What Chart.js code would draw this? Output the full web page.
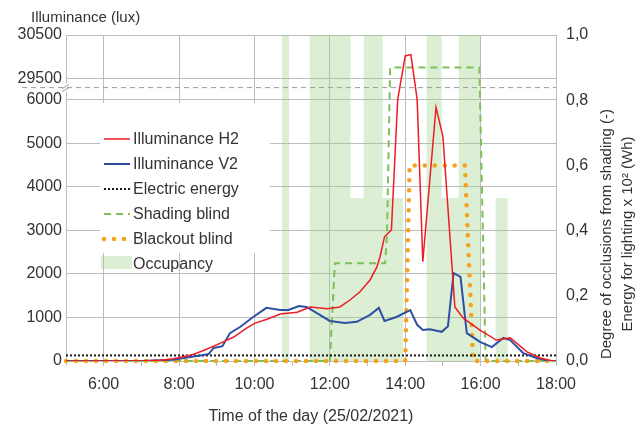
<!DOCTYPE html>
<html>
<head>
<meta charset="utf-8">
<script src="https://cdn.jsdelivr.net/npm/chart.js@4.4.1/dist/chart.umd.min.js"></script>
<style>
html, body { margin: 0; padding: 0; background: #fff; }
#wrap { width: 643px; height: 427px; }
</style>
</head>
<body>
<div id="wrap"><canvas id="chart"></canvas></div>
<script>
// Illuminance H2 (lux)
const h2Times = ["5:00", "7:00", "7:30", "7:51", "8:18", "8:37", "9:06", "9:27", "9:48", "10:01", "10:20", "10:41", "11:08", "11:29", "11:56", "12:16", "12:32", "12:48", "13:04", "13:15", "13:20", "13:27", "13:38", "13:48", "14:00", "14:09", "14:19", "14:28", "14:49", "15:00", "15:19", "15:32", "15:59", "16:25", "16:47", "17:14", "17:35", "17:55", "18:00"];
const h2Values = [0, 0, 20, 50, 130, 230, 410, 550, 760, 870, 960, 1080, 1120, 1240, 1200, 1240, 1400, 1590, 1860, 2160, 2400, 2850, 3010, 6000, 30020, 30050, 6000, 2280, 5820, 5150, 1240, 990, 710, 480, 530, 210, 70, 0, 0];

// Illuminance V2 (lux)
const v2Times = ["5:00", "7:00", "7:51", "8:18", "8:39", "8:47", "8:55", "9:09", "9:21", "9:37", "9:58", "10:19", "10:41", "10:54", "11:11", "11:23", "11:44", "12:00", "12:24", "12:43", "13:04", "13:18", "13:27", "13:46", "14:08", "14:19", "14:28", "14:39", "14:58", "15:08", "15:17", "15:28", "15:38", "15:59", "16:18", "16:36", "16:47", "17:08", "17:29", "17:50", "18:00"];
const v2Values = [0, 0, 30, 90, 140, 160, 300, 340, 640, 780, 1010, 1220, 1170, 1170, 1260, 1240, 1060, 920, 870, 900, 1060, 1220, 920, 1010, 1170, 830, 710, 730, 670, 800, 2020, 1930, 640, 440, 320, 530, 480, 180, 70, 0, 0];

// Electric energy (x 10^2 Wh, right axis)
const energyTimes = ["5:00", "18:00"];
const energyValues = [0.017, 0.017];

// Shading blind (degree of occlusion, right axis)
const shadingTimes = ["5:00", "12:00", "12:08", "13:28", "13:31", "13:36", "15:58", "16:08", "18:00"];
const shadingValues = [0, 0, 0.3, 0.3, 0.39, 0.9, 0.9, 0, 0];

// Blackout blind (degree of occlusion, right axis)
const blackoutTimes = ["5:00", "14:00", "14:07", "15:35", "15:48", "18:00"];
const blackoutValues = [0, 0, 0.6, 0.6, 0, 0];

// Occupancy (step values, right axis)
const occTimes = ["5:00", "10:44", "10:55", "11:28", "12:33", "12:54", "13:24", "13:57", "14:34", "14:58", "15:25", "15:59", "16:24", "16:43", "18:00"];
const occValues = [0, 1, 0, 1, 0.5, 1, 0.5, 0, 1, 0.5, 1, 0, 0.5, 0, 0];

// left axis tick labels (broken axis)
const luxTicks = [0, 1000, 2000, 3000, 4000, 5000, 6000, 29500, 30500];
const hourTicks = [6, 8, 10, 12, 14, 16, 18];

const gridGray = "#bdbdbd";
const textColor = "#333333";

// axis break: 6000..29500 squeezed into a small band
const LOW_TOP = 6000, HIGH_BOTTOM = 29500, GAP = 483;
function brk(v) {
    if (v <= LOW_TOP) return v;
    if (v < HIGH_BOTTOM) return LOW_TOP + (v - LOW_TOP) * GAP / (HIGH_BOTTOM - LOW_TOP);
    return LOW_TOP + GAP + (v - HIGH_BOTTOM);
}

function hours(t) {
    var p = t.split(":");
    return parseInt(p[0]) + parseInt(p[1]) / 60;
}

function points(times, values, broken) {
    return times.map((t, i) => ({ x: hours(t), y: broken ? brk(values[i]) : values[i] }));
}

Chart.defaults.font.family = "'Liberation Sans', Arial, sans-serif";
Chart.defaults.font.size = 16;
Chart.defaults.color = textColor;

// legend drawn inside the plot, over a white box
const legendBox = {
    id: "legendBox",
    afterDatasetsDraw(chart) {
        const ctx = chart.ctx;
        ctx.save();
        ctx.fillStyle = "#fff";
        ctx.fillRect(100, 103, 170, 150);
        ctx.font = "16px 'Liberation Sans', Arial, sans-serif";
        ctx.textBaseline = "middle";
        chart.data.datasets.forEach((ds, i) => {
            const y = 139 + i * 25;
            if (ds.fill) {
                ctx.fillStyle = ds.backgroundColor;
                ctx.fillRect(101, y - 8, 31, 13);
            } else {
                ctx.beginPath();
                ctx.strokeStyle = ds.borderColor;
                ctx.lineWidth = ds.borderWidth;
                ctx.lineCap = ds.borderCapStyle || "butt";
                ctx.setLineDash(ds.borderDash || []);
                ctx.moveTo(104, y);
                ctx.lineTo(130, y);
                ctx.stroke();
                ctx.setLineDash([]);
            }
            ctx.fillStyle = textColor;
            ctx.fillText(ds.label, 133, y + 1);
        });
        ctx.restore();
    }
};

// axis break marker and axis titles
const decorations = {
    id: "decorations",
    afterDraw(chart) {
        const ctx = chart.ctx;
        const ys = chart.scales.y;
        const area = chart.chartArea;
        const yb = ys.getPixelForValue(LOW_TOP + GAP * 0.57);
        ctx.save();
        ctx.fillStyle = "#fff";
        ctx.fillRect(area.left - 2, yb - 4, 5, 8);
        ctx.strokeStyle = "#9a9a9a";
        ctx.lineWidth = 1;
        ctx.setLineDash([5, 4]);
        ctx.beginPath();
        ctx.moveTo(22, yb);
        ctx.lineTo(area.right, yb);
        ctx.stroke();
        ctx.setLineDash([]);
        ctx.beginPath();
        ctx.moveTo(area.left - 4, yb + 1);
        ctx.lineTo(area.left + 3, yb - 3);
        ctx.moveTo(area.left - 4, yb + 4);
        ctx.lineTo(area.left + 3, yb);
        ctx.stroke();

        ctx.fillStyle = textColor;
        ctx.textBaseline = "middle";
        ctx.font = "15px 'Liberation Sans', Arial, sans-serif";
        ctx.textAlign = "left";
        ctx.fillText("Illuminance (lux)", 31, 18);

        ctx.font = "16px 'Liberation Sans', Arial, sans-serif";
        ctx.textAlign = "center";
        ctx.fillText("Time of the day (25/02/2021)", 311, 417);

        ctx.font = "15px 'Liberation Sans', Arial, sans-serif";
        ctx.translate(607, 234);
        ctx.rotate(-Math.PI / 2);
        ctx.fillText("Degree of occlusions from shading (-)", 0, 0);
        ctx.fillText("Energy for lighting x 10\u00b2 (Wh)", 0, 21);
        ctx.restore();
    }
};

const config = {
    type: "line",
    data: {
        datasets: [
            {
                label: "Illuminance H2",
                data: points(h2Times, h2Values, true),
                yAxisID: "y",
                borderColor: "#ee1c25",
                borderWidth: 1.5,
                order: 0
            },
            {
                label: "Illuminance V2",
                data: points(v2Times, v2Values, true),
                yAxisID: "y",
                borderColor: "#2f4fa2",
                borderWidth: 2,
                order: 1
            },
            {
                label: "Electric energy",
                data: points(energyTimes, energyValues, false),
                yAxisID: "y1",
                borderColor: "#1a1a1a",
                borderWidth: 2,
                borderDash: [2, 2],
                order: 2
            },
            {
                label: "Shading blind",
                data: points(shadingTimes, shadingValues, false),
                yAxisID: "y1",
                borderColor: "#7cc15a",
                borderWidth: 2,
                borderDash: [7, 5],
                clip: false,
                order: 4
            },
            {
                label: "Blackout blind",
                data: points(blackoutTimes, blackoutValues, false),
                yAxisID: "y1",
                borderColor: "#f7a11a",
                borderWidth: 4.5,
                borderDash: [0, 10],
                borderCapStyle: "round",
                clip: false,
                order: 3
            },
            {
                label: "Occupancy",
                data: points(occTimes, occValues, false),
                yAxisID: "y1",
                stepped: true,
                fill: "origin",
                backgroundColor: "rgba(155, 209, 132, 0.35)",
                borderWidth: 0,
                order: 5
            }
        ]
    },
    options: {
        animation: false,
        responsive: true,
        maintainAspectRatio: false,
        events: [],
        elements: { point: { radius: 0 }, line: { tension: 0 } },
        layout: { padding: { top: 35, left: 0, right: 0, bottom: 0 } },
        plugins: { legend: { display: false }, tooltip: { enabled: false } },
        scales: {
            x: {
                type: "linear",
                min: 5,
                max: 18,
                afterFit: (s) => { s.height = 66; },
                ticks: {
                    stepSize: 1,
                    autoSkip: false,
                    maxRotation: 0,
                    padding: 9,
                    callback: (v) => hourTicks.includes(v) ? v + ":00" : ""
                },
                grid: {
                    color: (c) => (c.tick && hourTicks.includes(c.tick.value)) ? gridGray : "rgba(0,0,0,0)",
                    tickColor: gridGray,
                    tickLength: 5
                },
                border: { color: gridGray }
            },
            y: {
                type: "linear",
                position: "left",
                min: 0,
                max: brk(30500),
                afterFit: (s) => { s.width = 66; },
                afterBuildTicks: (s) => {
                    s.ticks = luxTicks.map(v => ({ value: brk(v) }));
                },
                ticks: {
                    autoSkip: false,
                    padding: 4,
                    callback: (v, i) => String(luxTicks[i])
                },
                grid: { color: gridGray, drawTicks: false },
                border: { color: gridGray }
            },
            y1: {
                type: "linear",
                position: "right",
                min: 0,
                max: 1,
                afterFit: (s) => { s.width = 87; },
                ticks: {
                    stepSize: 0.2,
                    padding: 10,
                    callback: (v) => v.toFixed(1).replace(".", ",")
                },
                grid: { drawOnChartArea: false, drawTicks: false },
                border: { color: gridGray }
            }
        }
    },
    plugins: [legendBox, decorations]
};

new Chart(document.getElementById("chart").getContext("2d"), config);
</script>
</body>
</html>
